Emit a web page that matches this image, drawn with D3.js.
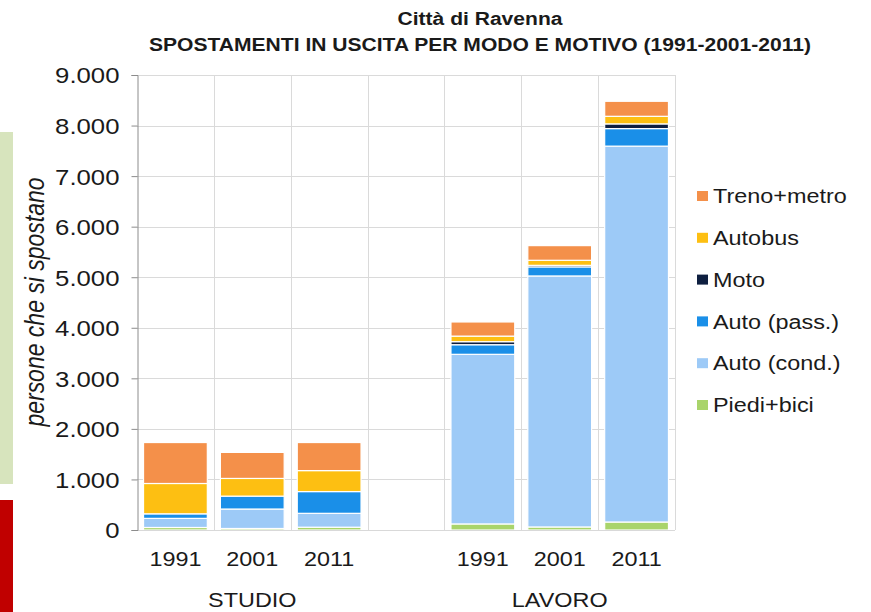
<!DOCTYPE html>
<html>
<head>
<meta charset="utf-8">
<script src="https://cdn.jsdelivr.net/npm/d3@7"></script>
<style>
  body { margin: 0; background: #fff; }
  text { font-family: "Liberation Sans", Arial, sans-serif; fill: #1a1a1a; }
</style>
</head>
<body>
<div id="chart"></div>
<script>
// data (order: studio 1991/2001/2011, lavoro 1991/2001/2011)
var years = ["1991", "2001", "2011"];
var groups = ["STUDIO", "LAVORO"];
var seriesNames = ["Piedi+bici", "Auto (cond.)", "Auto (pass.)", "Moto", "Autobus", "Treno+metro"];
var piediBici  = [50, 30, 55, 120, 60, 158];
var autoCond   = [180, 385, 275, 3355, 4965, 7435];
var autoPass   = [90, 255, 430, 190, 180, 347];
var moto       = [0, 0, 0, 60, 30, 93];
var autobus    = [600, 350, 415, 110, 100, 150];
var trenoMetro = [810, 515, 555, 280, 290, 297];
var yTicks = [0, 1000, 2000, 3000, 4000, 5000, 6000, 7000, 8000, 9000];

var colors = ["#a9d46b", "#9dcaf7", "#1a8fe8", "#0e1f40", "#fdbf12", "#f4904a"];
var STRETCH = 1.17;

var W = 871, H = 612;
var svg = d3.select("#chart").append("svg")
    .attr("width", W).attr("height", H);

// left slide decoration
svg.append("rect").attr("x", 0).attr("y", 132).attr("width", 13).attr("height", 352).attr("fill", "#d7e4bd");
svg.append("rect").attr("x", 0).attr("y", 500).attr("width", 13).attr("height", 112).attr("fill", "#c00000");

// widen glyphs like the (stretched) source picture
var stretch = function(sel) {
  sel.each(function() {
    var w = this.getComputedTextLength();
    this.setAttribute("textLength", w * STRETCH);
    this.setAttribute("lengthAdjust", "spacingAndGlyphs");
  });
};

// build rows: one per category slot, with empty slot between groups
var keys = ["S1991", "S2001", "S2011", "gap", "L1991", "L2001", "L2011"];
var rows = [];
[0, 1, 2, 3, 4, 5].forEach(function(i) {
  rows.push({
    key: (i < 3 ? "S" : "L") + years[i % 3],
    year: years[i % 3],
    "Piedi+bici": piediBici[i],
    "Auto (cond.)": autoCond[i],
    "Auto (pass.)": autoPass[i],
    "Moto": moto[i],
    "Autobus": autobus[i],
    "Treno+metro": trenoMetro[i]
  });
});

var plotLeft = 137, plotRight = 675, plotTop = 75, plotBottom = 530;

var x = d3.scaleBand().domain(keys).range([plotLeft, plotRight])
    .paddingInner(0.17).paddingOuter(0.085);
var y = d3.scaleLinear().domain([0, 9000]).range([plotBottom, plotTop]);

var it = d3.formatLocale({decimal: ",", thousands: ".", grouping: [3], currency: ["", ""]});
var fmt = it.format(",");

// gridlines
svg.append("g").selectAll("line").data(yTicks.slice(1)).enter().append("line")
    .attr("x1", plotLeft).attr("x2", plotRight)
    .attr("y1", function(d) { return Math.round(y(d)) + 0.5; })
    .attr("y2", function(d) { return Math.round(y(d)) + 0.5; })
    .attr("stroke", "#dadada");
svg.append("g").selectAll("line").data(keys).enter().append("line")
    .attr("x1", function(d) { return Math.round(x(d) - x.step() * 0.085 + x.step()) + 0.5; })
    .attr("x2", function(d) { return Math.round(x(d) - x.step() * 0.085 + x.step()) + 0.5; })
    .attr("y1", plotTop).attr("y2", plotBottom)
    .attr("stroke", "#dadada");

// stacked bars
var stack = d3.stack().keys(seriesNames);
var layers = stack(rows);
svg.append("g").selectAll("g").data(layers).enter().append("g")
    .attr("fill", function(d, i) { return colors[i]; })
  .selectAll("rect").data(function(d) { return d; }).enter().append("rect")
    .attr("x", function(d) { return x(d.data.key); })
    .attr("width", x.bandwidth())
    .attr("y", function(d) { return y(d[1]); })
    .attr("height", function(d) { return Math.max(0, y(d[0]) - y(d[1])); })
    .attr("stroke", "#fff").attr("stroke-width", 1.2);

// x axis line
svg.append("line").attr("x1", plotLeft).attr("x2", plotRight)
    .attr("y1", plotBottom + 0.5).attr("y2", plotBottom + 0.5).attr("stroke", "#d9d9d9");

// y axis
var yAxis = svg.append("g").attr("transform", "translate(" + (plotLeft + 0.5) + ",0)")
    .call(d3.axisLeft(y).tickValues(yTicks).tickFormat(fmt).tickSize(6).tickPadding(12));
yAxis.select(".domain").attr("stroke", "#8c8c8c");
yAxis.selectAll(".tick line").attr("stroke", "#8c8c8c");
yAxis.selectAll(".tick text")
    .style("font-family", "'Liberation Sans', Arial, sans-serif")
    .attr("font-size", 22).attr("fill", "#1a1a1a").attr("dy", "0.36em")
    .call(stretch);

// year labels
svg.append("g").selectAll("text").data(rows).enter().append("text")
    .attr("x", function(d) { return x(d.key) + x.bandwidth() / 2; })
    .attr("y", 566)
    .attr("text-anchor", "middle").attr("font-size", 20)
    .text(function(d) { return d.year; })
    .call(stretch);

// group labels
svg.append("g").selectAll("text").data(groups).enter().append("text")
    .attr("x", function(d, i) { return x(i === 0 ? "S2001" : "L2001") + x.bandwidth() / 2; })
    .attr("y", 607)
    .attr("text-anchor", "middle").attr("font-size", 20)
    .text(function(d) { return d; })
    .call(stretch);

// y axis title
svg.append("text")
    .attr("transform", "translate(44,302) rotate(-90) scale(1," + STRETCH + ")")
    .attr("text-anchor", "middle").attr("font-size", 23).attr("font-style", "italic")
    .text("persone che si spostano");

// titles
svg.append("text").attr("x", 480).attr("y", 25).attr("text-anchor", "middle")
    .attr("font-size", 18).attr("font-weight", "bold")
    .text("Città di Ravenna").call(stretch);
svg.append("text").attr("x", 480).attr("y", 51).attr("text-anchor", "middle")
    .attr("font-size", 18).attr("font-weight", "bold")
    .text("SPOSTAMENTI IN USCITA PER MODO E MOTIVO (1991-2001-2011)").call(stretch);

// legend (top item first)
var legendItems = seriesNames.slice().reverse();
var legend = svg.append("g").selectAll("g").data(legendItems).enter().append("g")
    .attr("transform", function(d, i) { return "translate(697," + (196 + i * 41.8) + ")"; });
legend.append("rect").attr("x", 0).attr("y", -5).attr("width", 11).attr("height", 10)
    .attr("fill", function(d) { return colors[seriesNames.indexOf(d)]; });
legend.append("text").attr("x", 16).attr("dy", "0.36em").attr("font-size", 20)
    .text(function(d) { return d; })
    .call(stretch);
</script>
</body>
</html>
